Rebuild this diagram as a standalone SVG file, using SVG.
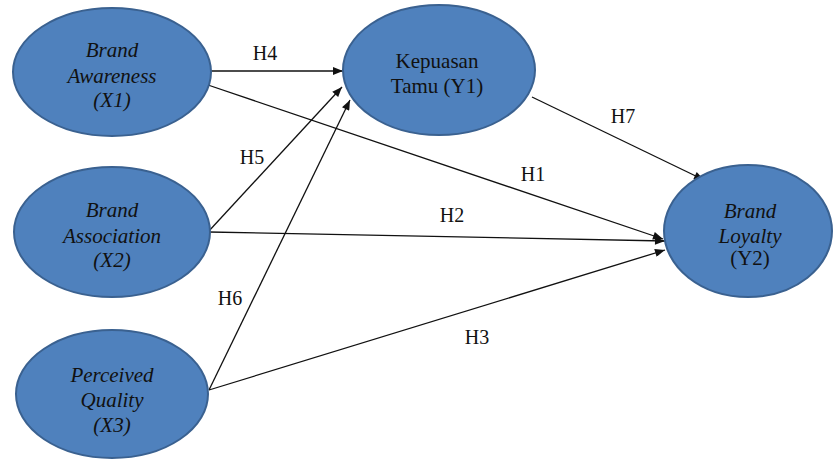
<svg xmlns="http://www.w3.org/2000/svg" width="833" height="459" viewBox="0 0 833 459">
<defs>
<style>
.node{fill:#4F81BD;stroke:#3A6190;stroke-width:2}
text{font-family:"Liberation Serif","Times New Roman",serif;fill:#111;text-anchor:middle}
.t{font-size:21px}
.i{font-style:italic}
.lbl{font-size:20px}
.c{stroke:#111;stroke-width:1.3;fill:none;marker-end:url(#ah)}
</style>
<marker id="ah" viewBox="0 0 10 8" refX="10" refY="4" markerWidth="11" markerHeight="8" markerUnits="userSpaceOnUse" orient="auto">
<path d="M0,0 L10,4 L0,8 Z" fill="#111"/>
</marker>
</defs>
<rect width="833" height="459" fill="#fff"/>
<g id="connectors">
<line class="c" x1="208" y1="71" x2="343" y2="71"/>
<line class="c" x1="208" y1="85" x2="663" y2="239"/>
<line class="c" x1="209" y1="232" x2="665" y2="241"/>
<line class="c" x1="209" y1="390" x2="665" y2="250"/>
<line class="c" x1="208" y1="232" x2="342" y2="87"/>
<line class="c" x1="209" y1="390" x2="350" y2="100"/>
<line class="c" x1="532" y1="97" x2="704" y2="180"/>
<text class="lbl" x="265" y="60">H4</text>
<text class="lbl" x="252" y="164">H5</text>
<text class="lbl" x="230" y="305">H6</text>
<text class="lbl" x="533" y="181">H1</text>
<text class="lbl" x="452" y="222">H2</text>
<text class="lbl" x="477" y="344">H3</text>
<text class="lbl" x="623" y="123">H7</text>
</g>
<g id="x1">
<ellipse class="node" cx="112" cy="72" rx="99" ry="64"/>
<text class="t i" x="112" y="57">Brand</text>
<text class="t i" x="112" y="83">Awareness</text>
<text class="t i" x="112" y="107">(X1)</text>
</g>
<g id="x2">
<ellipse class="node" cx="112" cy="232" rx="98" ry="65"/>
<text class="t i" x="112" y="217">Brand</text>
<text class="t i" x="112" y="243">Association</text>
<text class="t i" x="112" y="267">(X2)</text>
</g>
<g id="x3">
<ellipse class="node" cx="112" cy="394" rx="96" ry="64"/>
<text class="t i" x="112" y="382">Perceived</text>
<text class="t i" x="112" y="407">Quality</text>
<text class="t i" x="112" y="432">(X3)</text>
</g>
<g id="y1">
<ellipse class="node" cx="439" cy="70" rx="96" ry="65"/>
<text class="t" x="437" y="68">Kepuasan</text>
<text class="t" x="437" y="93">Tamu (Y1)</text>
</g>
<g id="y2">
<ellipse class="node" cx="748" cy="231" rx="84" ry="66"/>
<text class="t i" x="750" y="218">Brand</text>
<text class="t i" x="750" y="243">Loyalty</text>
<text class="t" x="750" y="265">(Y2)</text>
</g>
</svg>
